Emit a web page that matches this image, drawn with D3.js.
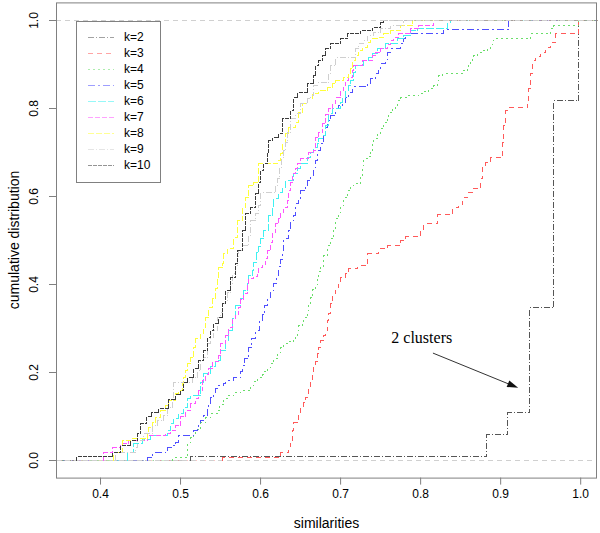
<!DOCTYPE html>
<html>
<head>
<meta charset="utf-8">
<script src="https://cdn.jsdelivr.net/npm/d3@7"></script>
<style>
  body { margin: 0; background: #fff; }
  svg { display: block; font-family: "Liberation Sans", Arial, sans-serif; }
</style>
</head>
<body>
<svg id="chart"></svg>
<script>
// empirical cdf steps, [similarity, cumulative]
const stepsK2 = [[0.5125,0.009],[0.8825,0.059],[0.909,0.109],[0.936,0.348],[0.966,0.818],[0.9975,1.0]];
const stepsK3 = [[0.5525,0.007],[0.625,0.018],[0.635,0.032],[0.6375,0.045],[0.64,0.068],[0.641,0.086],[0.646,0.093],[0.6475,0.107],[0.65,0.12],[0.654,0.132],[0.656,0.143],[0.659,0.152],[0.66,0.166],[0.6625,0.182],[0.665,0.198],[0.666,0.216],[0.669,0.225],[0.671,0.243],[0.6725,0.257],[0.675,0.273],[0.679,0.284],[0.681,0.295],[0.684,0.318],[0.685,0.334],[0.6875,0.357],[0.69,0.38],[0.694,0.393],[0.6975,0.402],[0.7,0.416],[0.706,0.425],[0.71,0.436],[0.721,0.443],[0.734,0.47],[0.7475,0.482],[0.759,0.489],[0.775,0.5],[0.781,0.509],[0.8,0.523],[0.804,0.539],[0.821,0.559],[0.84,0.575],[0.8475,0.582],[0.8525,0.598],[0.859,0.609],[0.865,0.618],[0.875,0.641],[0.8775,0.668],[0.881,0.677],[0.8875,0.689],[0.9025,0.723],[0.904,0.761],[0.906,0.795],[0.91,0.802],[0.934,0.811],[0.935,0.845],[0.9375,0.88],[0.94,0.909],[0.944,0.918],[0.95,0.927],[0.956,0.939],[0.9625,0.95],[0.969,0.97],[0.9975,1.0]];
const stepsK4 = [[0.49,0.007],[0.509,0.041],[0.5125,0.052],[0.516,0.059],[0.519,0.07],[0.525,0.086],[0.531,0.098],[0.5375,0.107],[0.546,0.114],[0.549,0.127],[0.554,0.141],[0.559,0.148],[0.566,0.155],[0.575,0.159],[0.5875,0.17],[0.591,0.18],[0.596,0.189],[0.6025,0.195],[0.604,0.202],[0.609,0.211],[0.6125,0.22],[0.616,0.232],[0.621,0.245],[0.625,0.257],[0.629,0.266],[0.635,0.27],[0.641,0.277],[0.644,0.284],[0.646,0.295],[0.6475,0.307],[0.6525,0.314],[0.654,0.325],[0.659,0.341],[0.66,0.357],[0.6625,0.37],[0.665,0.389],[0.669,0.4],[0.671,0.414],[0.6725,0.43],[0.675,0.441],[0.679,0.466],[0.684,0.489],[0.6875,0.505],[0.691,0.527],[0.694,0.55],[0.6975,0.564],[0.7,0.58],[0.704,0.598],[0.709,0.614],[0.7125,0.625],[0.716,0.63],[0.725,0.648],[0.7275,0.67],[0.729,0.686],[0.735,0.691],[0.7375,0.702],[0.74,0.72],[0.741,0.732],[0.746,0.743],[0.75,0.755],[0.754,0.768],[0.759,0.78],[0.76,0.791],[0.765,0.8],[0.769,0.807],[0.771,0.818],[0.775,0.825],[0.784,0.83],[0.7975,0.834],[0.804,0.839],[0.81,0.845],[0.816,0.852],[0.821,0.864],[0.8225,0.875],[0.8275,0.88],[0.8525,0.886],[0.859,0.893],[0.86,0.902],[0.8625,0.907],[0.865,0.914],[0.866,0.92],[0.871,0.927],[0.8775,0.932],[0.884,0.936],[0.8875,0.945],[0.89,0.955],[0.891,0.959],[0.9375,0.97],[0.9625,0.982],[0.966,0.989],[0.9975,1.0]];
const stepsK5 = [[0.459,0.007],[0.465,0.018],[0.481,0.023],[0.484,0.03],[0.49,0.034],[0.494,0.041],[0.4975,0.057],[0.516,0.068],[0.521,0.075],[0.5225,0.086],[0.525,0.091],[0.529,0.102],[0.534,0.118],[0.535,0.13],[0.5375,0.143],[0.541,0.155],[0.544,0.164],[0.546,0.17],[0.554,0.175],[0.556,0.182],[0.566,0.189],[0.575,0.202],[0.5775,0.216],[0.58,0.232],[0.585,0.257],[0.589,0.277],[0.594,0.295],[0.599,0.318],[0.6025,0.332],[0.605,0.352],[0.609,0.37],[0.6125,0.386],[0.616,0.402],[0.62,0.42],[0.6225,0.441],[0.625,0.457],[0.6275,0.477],[0.629,0.505],[0.635,0.523],[0.6375,0.545],[0.641,0.557],[0.644,0.584],[0.6475,0.595],[0.65,0.614],[0.656,0.625],[0.659,0.636],[0.6625,0.648],[0.666,0.666],[0.669,0.682],[0.671,0.705],[0.675,0.72],[0.679,0.739],[0.681,0.757],[0.684,0.773],[0.6875,0.784],[0.694,0.8],[0.6975,0.807],[0.7025,0.814],[0.706,0.825],[0.71,0.836],[0.715,0.85],[0.734,0.857],[0.7375,0.868],[0.744,0.88],[0.7475,0.891],[0.75,0.902],[0.756,0.911],[0.759,0.927],[0.7625,0.936],[0.775,0.948],[0.779,0.959],[0.781,0.97],[0.829,0.98],[0.91,1.0]];
const stepsK6 = [[0.434,0.018],[0.441,0.039],[0.4525,0.048],[0.4625,0.057],[0.484,0.068],[0.4875,0.084],[0.491,0.095],[0.4975,0.107],[0.504,0.12],[0.509,0.141],[0.5125,0.148],[0.525,0.177],[0.529,0.198],[0.5375,0.214],[0.544,0.227],[0.55,0.25],[0.556,0.273],[0.56,0.295],[0.565,0.323],[0.569,0.352],[0.575,0.368],[0.579,0.386],[0.584,0.402],[0.585,0.42],[0.59,0.432],[0.591,0.45],[0.595,0.473],[0.5975,0.486],[0.6,0.505],[0.604,0.523],[0.61,0.557],[0.615,0.575],[0.616,0.595],[0.6225,0.609],[0.6275,0.62],[0.631,0.636],[0.641,0.652],[0.646,0.664],[0.65,0.675],[0.659,0.689],[0.6625,0.7],[0.666,0.711],[0.671,0.72],[0.6725,0.732],[0.6775,0.739],[0.681,0.761],[0.685,0.789],[0.69,0.8],[0.7,0.814],[0.7025,0.825],[0.706,0.841],[0.71,0.852],[0.7125,0.864],[0.716,0.882],[0.719,0.898],[0.729,0.909],[0.735,0.916],[0.74,0.925],[0.746,0.936],[0.756,0.948],[0.771,0.959],[0.779,0.966],[0.7875,0.977],[0.796,0.982],[0.834,0.995],[0.8375,1.0]];
const stepsK7 = [[0.404,0.018],[0.415,0.03],[0.425,0.039],[0.435,0.045],[0.459,0.057],[0.481,0.061],[0.4875,0.068],[0.494,0.08],[0.5,0.1],[0.506,0.114],[0.5125,0.13],[0.519,0.141],[0.5225,0.159],[0.5275,0.182],[0.531,0.195],[0.535,0.209],[0.54,0.225],[0.5475,0.239],[0.55,0.266],[0.556,0.284],[0.56,0.302],[0.565,0.323],[0.569,0.332],[0.5725,0.348],[0.575,0.366],[0.579,0.38],[0.584,0.402],[0.585,0.414],[0.591,0.418],[0.596,0.425],[0.5975,0.439],[0.6025,0.445],[0.606,0.459],[0.609,0.477],[0.6125,0.495],[0.615,0.518],[0.619,0.539],[0.6225,0.55],[0.625,0.564],[0.629,0.575],[0.634,0.591],[0.635,0.614],[0.6375,0.632],[0.64,0.652],[0.644,0.664],[0.646,0.675],[0.65,0.686],[0.66,0.7],[0.666,0.705],[0.669,0.734],[0.6725,0.745],[0.6775,0.766],[0.681,0.786],[0.685,0.8],[0.69,0.811],[0.694,0.825],[0.7,0.841],[0.704,0.852],[0.706,0.864],[0.71,0.87],[0.715,0.886],[0.716,0.898],[0.7275,0.909],[0.74,0.92],[0.744,0.927],[0.75,0.936],[0.759,0.945],[0.7625,0.955],[0.766,0.961],[0.7725,0.97],[0.7875,0.982],[0.7975,0.989],[0.816,1.0]];
const stepsK8 = [[0.416,0.018],[0.4275,0.045],[0.4375,0.05],[0.459,0.064],[0.46,0.075],[0.465,0.086],[0.469,0.098],[0.475,0.114],[0.481,0.125],[0.485,0.136],[0.494,0.152],[0.4975,0.159],[0.5025,0.175],[0.504,0.189],[0.506,0.205],[0.509,0.22],[0.5125,0.234],[0.516,0.257],[0.519,0.277],[0.525,0.289],[0.529,0.302],[0.531,0.325],[0.535,0.348],[0.54,0.368],[0.544,0.391],[0.546,0.414],[0.5475,0.439],[0.5525,0.448],[0.554,0.47],[0.559,0.482],[0.566,0.507],[0.571,0.545],[0.5775,0.575],[0.581,0.598],[0.585,0.625],[0.591,0.632],[0.5975,0.675],[0.621,0.682],[0.625,0.698],[0.6275,0.72],[0.631,0.743],[0.635,0.757],[0.644,0.768],[0.6475,0.791],[0.6525,0.811],[0.659,0.823],[0.665,0.834],[0.6725,0.841],[0.684,0.848],[0.69,0.857],[0.694,0.864],[0.704,0.87],[0.71,0.88],[0.7125,0.891],[0.715,0.909],[0.719,0.92],[0.7225,0.932],[0.7275,0.939],[0.734,0.95],[0.7375,0.959],[0.746,0.961],[0.754,0.97],[0.7625,0.977],[0.775,0.989],[0.79,1.0]];
const stepsK9 = [[0.419,0.018],[0.444,0.03],[0.446,0.045],[0.454,0.061],[0.465,0.08],[0.471,0.091],[0.479,0.102],[0.484,0.12],[0.49,0.136],[0.491,0.177],[0.515,0.189],[0.521,0.205],[0.525,0.227],[0.529,0.234],[0.534,0.266],[0.5375,0.28],[0.541,0.295],[0.546,0.325],[0.55,0.336],[0.5525,0.357],[0.556,0.364],[0.559,0.382],[0.5625,0.402],[0.565,0.425],[0.569,0.443],[0.571,0.461],[0.5725,0.477],[0.5775,0.489],[0.585,0.511],[0.5875,0.545],[0.594,0.561],[0.5975,0.58],[0.6,0.609],[0.619,0.625],[0.621,0.641],[0.624,0.666],[0.626,0.689],[0.629,0.705],[0.631,0.723],[0.634,0.745],[0.6375,0.777],[0.644,0.789],[0.65,0.811],[0.659,0.823],[0.6625,0.83],[0.666,0.852],[0.671,0.859],[0.685,0.88],[0.6875,0.898],[0.694,0.916],[0.719,0.936],[0.7225,0.948],[0.729,0.955],[0.734,0.966],[0.741,0.973],[0.75,0.982],[0.7625,0.989],[0.779,1.0]];
const stepsK10 = [[0.37,0.009],[0.415,0.018],[0.425,0.034],[0.4375,0.045],[0.446,0.061],[0.45,0.084],[0.4575,0.1],[0.464,0.109],[0.4725,0.118],[0.485,0.139],[0.494,0.15],[0.5,0.159],[0.504,0.177],[0.509,0.189],[0.516,0.209],[0.5225,0.227],[0.529,0.25],[0.534,0.28],[0.5375,0.295],[0.541,0.311],[0.5475,0.325],[0.5525,0.357],[0.556,0.386],[0.5625,0.416],[0.569,0.448],[0.571,0.477],[0.5775,0.523],[0.581,0.561],[0.5875,0.575],[0.594,0.607],[0.5975,0.632],[0.6,0.659],[0.604,0.675],[0.609,0.7],[0.61,0.727],[0.615,0.734],[0.6225,0.743],[0.6275,0.777],[0.6375,0.795],[0.641,0.825],[0.646,0.836],[0.659,0.857],[0.666,0.875],[0.669,0.898],[0.6725,0.909],[0.6775,0.92],[0.681,0.936],[0.6875,0.948],[0.7,0.959],[0.709,0.97],[0.725,0.977],[0.74,0.984],[0.75,0.995],[0.754,1.0]];

const seriesNames = ['k=2', 'k=3', 'k=4', 'k=5', 'k=6', 'k=7', 'k=8', 'k=9', 'k=10'];
const seriesSteps = [stepsK2, stepsK3, stepsK4, stepsK5, stepsK6, stepsK7, stepsK8, stepsK9, stepsK10];
const seriesColors = ['#555555', '#ff5a5a', '#6ade6a', '#4f4fff', '#3ff2f2', '#ff55ff', '#ffff3a', '#cfcfcf', '#3c3c3c'];
const seriesDash = ['6,2,1,2', '5,4', '2,3', '7,3,2,3', '8,2', '5,2', '6,2', '6,2,1,2', '4,1'];

const xTicks = [0.4, 0.5, 0.6, 0.7, 0.8, 0.9, 1.0];
const yTicks = [0, 0.2, 0.4, 0.6, 0.8, 1.0];

// annotation: label position and arrow, in data units
const noteText = '2 clusters';
const notePos = [0.764, 0.266];
const arrowFrom = [0.816, 0.243];
const arrowTo = [0.9225, 0.164];

const width = 600, height = 533;
const margin = { top: 2.4, right: 3, bottom: 55.4, left: 56 };

const svg = d3.select('#chart').attr('width', width).attr('height', height);

const x = d3.scaleLinear().domain([0.345, 1.021]).range([margin.left, width - margin.right]);
const y = d3.scaleLinear().domain([-0.04, 1.04]).range([height - margin.bottom, margin.top]);

const xLo = x.domain()[0], xHi = x.domain()[1];

const line = d3.line()
  .x(d => Math.round(x(d[0])) + 0.5)
  .y(d => Math.round(y(d[1])) + 0.5)
  .curve(d3.curveStepAfter);

// flat tails of every curve (before first jump, after reaching 1), faint like the original
const tails = svg.append('g');
seriesSteps.forEach((s, i) => {
  tails.append('path')
    .attr('d', line([[xLo, 0], [s[0][0], 0]]))
    .attr('fill', 'none')
    .attr('stroke', seriesColors[i])
    .attr('stroke-opacity', 0.35)
    .attr('stroke-dasharray', seriesDash[i])
    .attr('shape-rendering', 'crispEdges');
  tails.append('path')
    .attr('d', line([s[s.length - 1], [xHi, 1]]))
    .attr('fill', 'none')
    .attr('stroke', seriesColors[i])
    .attr('stroke-opacity', 0.3)
    .attr('stroke-dasharray', seriesDash[i])
    .attr('shape-rendering', 'crispEdges');
});

// reference lines at 0 and 1
svg.selectAll('line.ref')
  .data([0, 1])
  .enter()
  .append('line')
  .attr('class', 'ref')
  .attr('x1', x.range()[0]).attr('x2', x.range()[1])
  .attr('y1', d => Math.round(y(d)) + 0.5).attr('y2', d => Math.round(y(d)) + 0.5)
  .attr('stroke', '#d0d0d0')
  .attr('stroke-dasharray', '5,4');

// the step curves
svg.append('g')
  .selectAll('path')
  .data(seriesSteps)
  .enter()
  .append('path')
  .attr('d', s => line([[s[0][0], 0], ...s]))
  .attr('fill', 'none')
  .attr('stroke', (s, i) => seriesColors[i])
  .attr('stroke-dasharray', (s, i) => seriesDash[i])
  .attr('stroke-width', 1)
  .attr('shape-rendering', 'crispEdges');

// axes
const xAxis = svg.append('g')
  .attr('transform', `translate(0,${y.range()[0]})`)
  .call(d3.axisBottom(x).tickValues(xTicks).tickSize(7).tickPadding(5).tickFormat(d3.format('.1f')));

const yAxis = svg.append('g')
  .attr('transform', `translate(${x.range()[0]},0)`)
  .call(d3.axisLeft(y).tickValues(yTicks).tickSize(7).tickFormat(d3.format('.1f')));

[xAxis, yAxis].forEach(g => {
  g.select('.domain').remove();
  g.selectAll('.tick line').attr('stroke', '#808080');
  g.selectAll('.tick text')
    .attr('fill', '#000')
    .style('font-size', '12px')
    .style('font-family', '"Liberation Sans", Arial, sans-serif');
});

yAxis.selectAll('.tick text')
  .attr('x', null)
  .attr('dy', '0.35em')
  .attr('text-anchor', 'middle')
  .attr('transform', 'translate(-22,0) rotate(-90)');

// plot box
svg.append('rect')
  .attr('x', x.range()[0] + 0.5)
  .attr('y', y.range()[1] + 0.5)
  .attr('width', x.range()[1] - x.range()[0] - 1)
  .attr('height', y.range()[0] - y.range()[1])
  .attr('fill', 'none')
  .attr('stroke', '#808080');

// axis titles
svg.append('text')
  .attr('x', (x.range()[0] + x.range()[1]) / 2)
  .attr('y', 523)
  .attr('dy', '0.35em')
  .attr('text-anchor', 'middle')
  .style('font-size', '14px')
  .text('similarities');

svg.append('text')
  .attr('transform', `translate(14,${(y.range()[0] + y.range()[1]) / 2}) rotate(-90)`)
  .attr('dy', '0.35em')
  .attr('text-anchor', 'middle')
  .style('font-size', '14px')
  .text('cumulative distribution');

// legend
const legend = svg.append('g').attr('transform', 'translate(76,21)');
legend.append('rect')
  .attr('x', 0.5).attr('y', 0.5)
  .attr('width', 84).attr('height', 161)
  .attr('fill', '#fff')
  .attr('stroke', '#808080');

const rows = legend.selectAll('g.row')
  .data(seriesNames)
  .enter()
  .append('g')
  .attr('class', 'row')
  .attr('transform', (d, i) => `translate(0,${16 + i * 16})`);

rows.append('line')
  .attr('x1', 12).attr('x2', 38)
  .attr('y1', 0.5).attr('y2', 0.5)
  .attr('stroke', (d, i) => seriesColors[i])
  .attr('stroke-opacity', 0.55)
  .attr('stroke-dasharray', (d, i) => seriesDash[i]);

rows.append('text')
  .attr('x', 48)
  .attr('dy', '0.35em')
  .style('font-size', '12px')
  .text(d => d);

// annotation
svg.append('text')
  .attr('x', x(notePos[0]))
  .attr('y', y(notePos[1]))
  .style('font-family', '"Liberation Serif", "Times New Roman", serif')
  .style('font-size', '16px')
  .text(noteText);

const ax1 = x(arrowFrom[0]), ay1 = y(arrowFrom[1]);
const ax2 = x(arrowTo[0]), ay2 = y(arrowTo[1]);
const ang = Math.atan2(ay2 - ay1, ax2 - ax1);
const headLen = 11, headW = 3.5;
svg.append('line')
  .attr('x1', ax1).attr('y1', ay1)
  .attr('x2', ax2 - Math.cos(ang) * headLen * 0.8).attr('y2', ay2 - Math.sin(ang) * headLen * 0.8)
  .attr('stroke', '#333')
  .attr('stroke-width', 1);

const bx = ax2 - Math.cos(ang) * headLen, by = ay2 - Math.sin(ang) * headLen;
svg.append('path')
  .attr('d', `M${ax2},${ay2}L${bx - Math.sin(ang) * headW},${by + Math.cos(ang) * headW}L${bx + Math.sin(ang) * headW},${by - Math.cos(ang) * headW}Z`)
  .attr('fill', '#111');
</script>
</body>
</html>
